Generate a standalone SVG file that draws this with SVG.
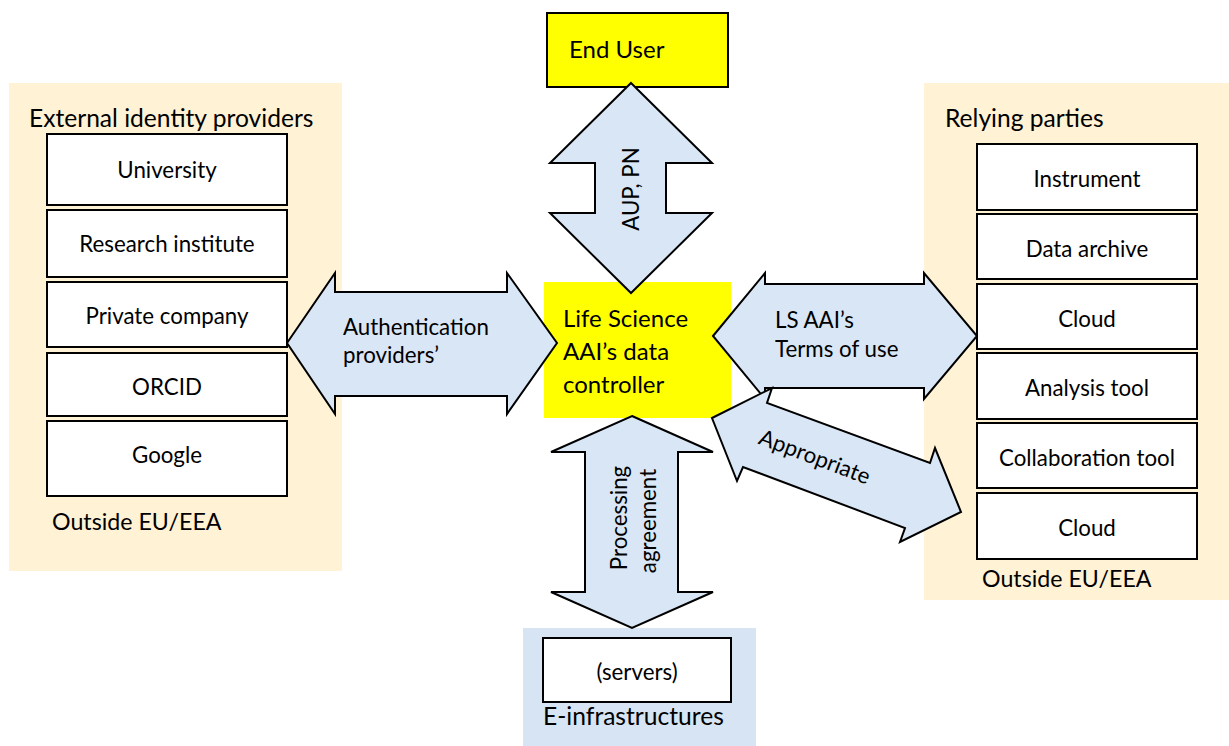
<svg xmlns="http://www.w3.org/2000/svg" width="1229" height="746" viewBox="0 0 1229 746">
  <style>
    text { font-family: Lato, "Liberation Sans", Arial, sans-serif; fill: #000; }
    .panel-beige { fill: #fff2d5; }
    .panel-blue { fill: #d7e4f3; }
    .box { fill: #fff; stroke: #000; stroke-width: 2; }
    .yellow { fill: #ffff00; }
    .arrow { fill: #d9e6f5; stroke: #000; stroke-width: 2; stroke-linejoin: miter; }
    .lbl { font-size: 22.3px; text-anchor: middle; }
    .title { font-size: 24.6px; }
    .note { font-size: 23.2px; }
    .alabel { font-size: 22.3px; }
    .center { font-size: 24px; }
  </style>

  <!-- External identity providers -->
  <g id="identity-providers">
    <rect class="panel-beige" x="9" y="83" width="333" height="488"/>
    <text class="title" x="29" y="127">External identity providers</text>
    <rect class="box" x="47" y="134" width="240" height="71"/>
    <text class="lbl" x="167" y="178">University</text>
    <rect class="box" x="47" y="210" width="240" height="67"/>
    <text class="lbl" x="167" y="252">Research institute</text>
    <rect class="box" x="47" y="282" width="240" height="65"/>
    <text class="lbl" x="167" y="324">Private company</text>
    <rect class="box" x="47" y="353" width="240" height="63"/>
    <text class="lbl" x="167" y="395">ORCID</text>
    <rect class="box" x="47" y="421" width="240" height="75"/>
    <text class="lbl" x="167" y="463">Google</text>
    <text class="note" x="52" y="530">Outside EU/EEA</text>
  </g>

  <!-- Relying parties -->
  <g id="relying-parties">
    <rect class="panel-beige" x="924" y="83" width="305" height="517"/>
    <text class="title" x="945" y="127">Relying parties</text>
    <rect class="box" x="977" y="144" width="220" height="66"/>
    <text class="lbl" x="1087" y="187">Instrument</text>
    <rect class="box" x="977" y="214" width="220" height="65"/>
    <text class="lbl" x="1087" y="257">Data archive</text>
    <rect class="box" x="977" y="284" width="220" height="65"/>
    <text class="lbl" x="1087" y="327">Cloud</text>
    <rect class="box" x="977" y="353" width="220" height="66"/>
    <text class="lbl" x="1087" y="396">Analysis tool</text>
    <rect class="box" x="977" y="423" width="220" height="65"/>
    <text class="lbl" x="1087" y="466">Collaboration tool</text>
    <rect class="box" x="977" y="493" width="220" height="66"/>
    <text class="lbl" x="1087" y="536">Cloud</text>
    <text class="note" x="982" y="587">Outside EU/EEA</text>
  </g>

  <!-- E-infrastructures -->
  <g id="e-infrastructures">
    <rect class="panel-blue" x="523" y="628" width="233" height="118"/>
    <rect class="box" x="543" y="638" width="188" height="64"/>
    <text class="lbl" x="637" y="680">(servers)</text>
    <text class="title" x="543" y="725">E-infrastructures</text>
  </g>

  <!-- End user -->
  <g id="end-user">
    <rect class="yellow" x="547" y="13" width="181" height="74" stroke="#000" stroke-width="2"/>
    <text class="center" x="569" y="58">End User</text>
  </g>

  <!-- Data controller -->
  <g id="data-controller">
    <rect class="yellow" x="544" y="282" width="187" height="136"/>
    <text class="center" x="563" y="327">Life Science</text>
    <text class="center" x="563" y="360">AAI’s data</text>
    <text class="center" x="563" y="393">controller</text>
  </g>

  <!-- Double-headed block arrows -->
  <g id="connectors">
    <g id="arrow-aup">
      <path class="arrow" d="M631,83 L712,163 L666,163 L666,213 L712,213 L631,293 L550,213 L595,213 L595,163 L550,163 Z"/>
      <text class="alabel" text-anchor="middle" transform="translate(639,189) rotate(-90)">AUP, PN</text>
    </g>
    <g id="arrow-auth">
      <path class="arrow" d="M287,343 L335,273 L335,292 L507,292 L507,273 L557,343 L507,414 L507,396 L335,396 L335,414 Z"/>
      <text class="alabel" x="343" y="335">Authentication</text>
      <text class="alabel" x="343" y="363">providers’</text>
    </g>
    <g id="arrow-terms">
      <path class="arrow" d="M713,336 L765,273 L765,284 L924,284 L924,273 L977,336 L924,399 L924,388 L765,388 L765,399 Z"/>
      <text class="alabel" x="775" y="328">LS AAI’s</text>
      <text class="alabel" x="775" y="357">Terms of use</text>
    </g>
    <g id="arrow-appropriate">
      <path class="arrow" d="M712,418 L772,388 L767,403 L930,463 L935,448 L961,512 L900,542 L905,528 L743,467 L737,481 Z"/>
      <text class="alabel" text-anchor="middle" transform="translate(812,464) rotate(20.6)">Appropriate</text>
    </g>
    <g id="arrow-processing">
      <path class="arrow" d="M632,416 L713,452 L678,452 L678,592 L713,592 L632,628 L551,592 L585,592 L585,452 L551,452 Z"/>
      <text class="alabel" text-anchor="middle" transform="translate(627,518) rotate(-90)">Processing</text>
      <text class="alabel" text-anchor="middle" transform="translate(656,521) rotate(-90)">agreement</text>
    </g>
  </g>
</svg>
